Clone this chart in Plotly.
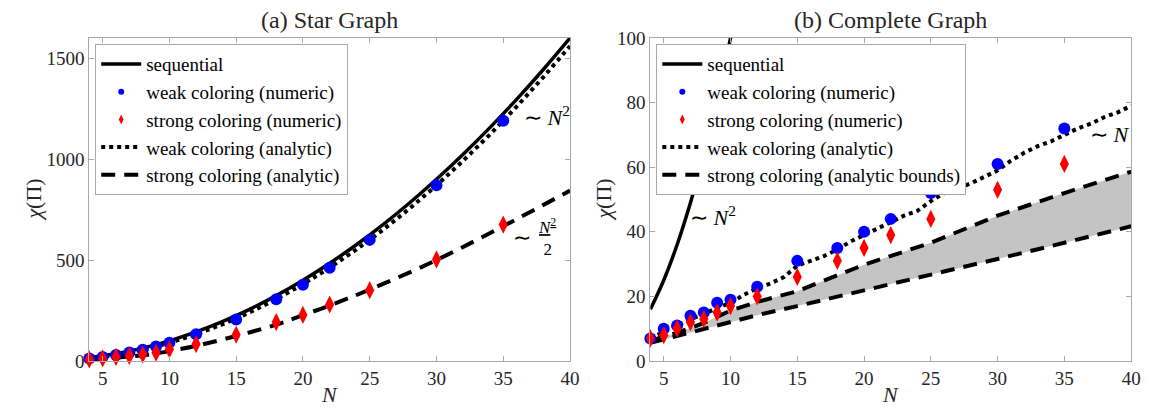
import plotly.graph_objects as go

# ---- data ----
N_pts = [4, 5, 6, 7, 8, 9, 10, 12, 15, 18, 20, 22, 25, 30, 35]

# (a) star graph
star_weak_num = [12, 20, 30, 42, 56, 72, 90, 132, 206, 306, 378, 462, 600, 870, 1190]
star_strong_num = [8, 13, 20, 25, 33, 41, 58, 84, 130, 193, 228, 280, 351, 503, 676]
star_line_N = [4, 6, 8, 10, 12, 14, 16, 18, 20, 22, 24, 26, 28, 30, 32, 34, 36, 38, 40]
star_seq = [16, 36, 64, 100, 144, 196, 256, 324, 400, 484, 576, 676, 784, 900, 1024, 1156, 1296, 1444, 1600]
star_weak_an = [12, 30, 56, 90, 132, 182, 240, 306, 380, 462, 552, 650, 756, 870, 992, 1122, 1260, 1406, 1560]
star_strong_N = [4, 5, 6, 7, 8, 9, 10, 12, 15, 18, 20, 22, 25, 30, 35, 40]
star_strong_an = [8, 12, 17, 22, 28, 38, 49, 75, 124, 180, 227, 275, 354, 500, 668, 844]

# (b) complete graph
comp_weak_num = [7, 10, 11, 14, 15, 18, 19, 23, 31, 35, 40, 44, 52, 61, 72]
comp_strong_num = [7, 8, 10, 12, 13, 15, 17, 20, 26, 31, 35, 39, 44, 53, 61]
comp_seq_N = [4, 5, 6, 7, 8, 9, 10, 11]
comp_seq = [16, 25, 36, 49, 64, 81, 100, 121]
comp_weak_N = list(range(4, 41))
comp_weak_an = [7, 9, 11, 13, 14.5, 16.5, 18, 20.5, 22.5, 24, 26, 29.5, 31, 32.5, 34.5, 37, 39,
                41, 43, 45, 46.5, 49.5, 52, 53.5, 55, 57, 59, 62, 64.5, 66.5, 68, 70, 72,
                73.5, 75.5, 77, 79]
comp_bound_N = [4, 6, 8, 10, 12, 15, 20, 25, 30, 35, 40]
comp_upper = [6.3, 8.7, 11.8, 15.6, 18.3, 21.6, 29.8, 36.6, 45, 52, 58.6]
comp_lower = [5.6, 7.8, 10, 12.2, 14.2, 17, 21.8, 26.7, 31.6, 36.6, 41.7]

FONT = "Liberation Serif"
AX_COL = "#a8a8a8"
TXT_COL = "#262626"
DASH = "14px,9px"
DOT = "4px,4px"

fig = go.Figure()

def add_panel(xa, ya, seq_x, seq_y, weak_x, weak_y, weak_num, strong_num):
    fig.add_trace(go.Scatter(x=seq_x, y=seq_y, mode="lines", line=dict(color="black", width=3.5, shape="spline"),
                             xaxis=xa, yaxis=ya, showlegend=False))
    fig.add_trace(go.Scatter(x=weak_x, y=weak_y, mode="lines", line=dict(color="black", width=4, dash=DOT),
                             xaxis=xa, yaxis=ya, showlegend=False))
    fig.add_trace(go.Scatter(x=N_pts, y=weak_num, mode="markers", cliponaxis=False,
                             marker=dict(color="#0000ff", size=12, symbol="circle"),
                             xaxis=xa, yaxis=ya, showlegend=False))
    fig.add_trace(go.Scatter(x=N_pts, y=strong_num, mode="markers", cliponaxis=False,
                             marker=dict(color="#ff0000", size=13, symbol="diamond-tall"),
                             xaxis=xa, yaxis=ya, showlegend=False))

# panel (a)
fig.add_trace(go.Scatter(x=star_strong_N, y=star_strong_an, mode="lines",
                         line=dict(color="black", width=4, dash=DASH, shape="spline"),
                         xaxis="x", yaxis="y", showlegend=False))
add_panel("x", "y", star_line_N, star_seq, star_line_N, star_weak_an, star_weak_num, star_strong_num)

# panel (b): shaded band between the bounds
fig.add_trace(go.Scatter(x=comp_bound_N, y=comp_lower, mode="lines", line=dict(width=0),
                         xaxis="x2", yaxis="y2", showlegend=False))
fig.add_trace(go.Scatter(x=comp_bound_N, y=comp_upper, mode="lines", line=dict(width=0),
                         fill="tonexty", fillcolor="#c4c4c4", xaxis="x2", yaxis="y2", showlegend=False))
for vals in (comp_lower, comp_upper):
    fig.add_trace(go.Scatter(x=comp_bound_N, y=vals, mode="lines", line=dict(color="black", width=4, dash=DASH),
                             xaxis="x2", yaxis="y2", showlegend=False))
add_panel("x2", "y2", comp_seq_N, comp_seq, comp_weak_N, comp_weak_an, comp_weak_num, comp_strong_num)

# legend-only entries
for leg, last in (("legend", "strong coloring (analytic)"), ("legend2", "strong coloring (analytic bounds)")):
    entries = [
        ("sequential", dict(mode="lines", line=dict(color="black", width=3.5))),
        ("weak coloring (numeric)", dict(mode="markers", marker=dict(color="#0000ff", size=6))),
        ("strong coloring (numeric)", dict(mode="markers", marker=dict(color="#ff0000", size=7, symbol="diamond-tall"))),
        ("weak coloring (analytic)", dict(mode="lines", line=dict(color="black", width=4, dash=DOT))),
        (last, dict(mode="lines", line=dict(color="black", width=4, dash=DASH))),
    ]
    for name, kw in entries:
        fig.add_trace(go.Scatter(x=[None], y=[None], name=name, legend=leg, showlegend=True,
                                 xaxis="x" if leg == "legend" else "x2",
                                 yaxis="y" if leg == "legend" else "y2", **kw))

axis_common = dict(showline=True, linecolor=AX_COL, linewidth=1, mirror="ticks", ticks="inside",
                   ticklen=5, tickcolor=AX_COL, showgrid=False, zeroline=False,
                   tickfont=dict(family=FONT, size=19, color=TXT_COL))

legend_common = dict(font=dict(family=FONT, size=19, color="black"), bgcolor="white",
                     bordercolor=AX_COL, borderwidth=1, itemwidth=40, tracegroupgap=0,
                     traceorder="normal", xanchor="left", yanchor="top")

fig.update_layout(
    width=1150, height=412,
    margin=dict(l=0, r=0, t=30, b=59),
    plot_bgcolor="white", paper_bgcolor="white",
    xaxis=dict(domain=[0.0713, 0.4930], range=[4, 40], tickvals=[5, 10, 15, 20, 25, 30, 35, 40], **axis_common),
    yaxis=dict(range=[0, 1600], tickvals=[0, 500, 1000, 1500], **axis_common),
    xaxis2=dict(domain=[0.5635, 0.9852], range=[4, 40], tickvals=[5, 10, 15, 20, 25, 30, 35, 40],
                anchor="y2", **axis_common),
    yaxis2=dict(range=[0, 100], tickvals=[0, 20, 40, 60, 80, 100], anchor="x2", **axis_common),
    legend=dict(x=0.0765, y=0.981, **legend_common),
    legend2=dict(x=0.5687, y=0.981, **legend_common),
)

ann_font = dict(family=FONT, size=22, color="black")
annotations = [
    dict(text="(a) Star Graph", x=0.2822, y=1.056, xref="paper", yref="paper", font=dict(family=FONT, size=24, color=TXT_COL)),
    dict(text="(b) Complete Graph", x=0.7744, y=1.056, xref="paper", yref="paper", font=dict(family=FONT, size=24, color=TXT_COL)),
    dict(text="<i>χ</i>(Π)", x=0.022, y=0.5, xref="paper", yref="paper", textangle=-90, font=dict(family=FONT, size=22, color=TXT_COL)),
    dict(text="<i>χ</i>(Π)", x=0.522, y=0.5, xref="paper", yref="paper", textangle=-90, font=dict(family=FONT, size=22, color=TXT_COL)),
    dict(text="<i>N</i>", x=0.2822, y=-0.105, xref="paper", yref="paper", font=dict(family=FONT, size=22, color=TXT_COL)),
    dict(text="<i>N</i>", x=0.7744, y=-0.105, xref="paper", yref="paper", font=dict(family=FONT, size=22, color=TXT_COL)),
    dict(text="∼ <i>N</i><sup>2</sup>", x=38.3, y=1215, xref="x", yref="y", font=ann_font),
    dict(text="∼", x=36.4, y=610, xref="x", yref="y", font=ann_font),
    dict(text="<u><i>N</i><sup>2</sup></u><br>2", x=38.3, y=615, xref="x", yref="y",
         font=dict(family=FONT, size=17, color="black")),
    dict(text="∼ <i>N</i><sup>2</sup>", x=8.7, y=45, xref="x2", yref="y2", font=ann_font),
    dict(text="∼ <i>N</i>", x=38.4, y=70, xref="x2", yref="y2", font=ann_font),
]
for a in annotations:
    a.setdefault("showarrow", False)
    a.setdefault("xanchor", "center")
    a.setdefault("yanchor", "middle")
fig.update_layout(annotations=annotations)

fig.write_html("out.html")
